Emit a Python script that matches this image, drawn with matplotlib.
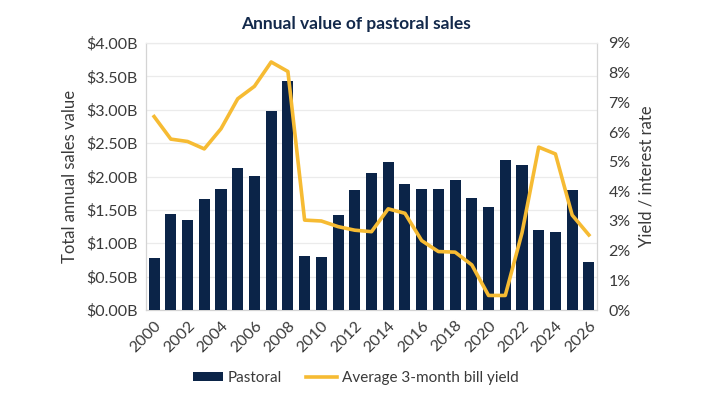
import matplotlib
matplotlib.use("Agg")
import matplotlib.pyplot as plt
from matplotlib.ticker import FuncFormatter, MultipleLocator
import numpy as np

years = list(range(2000, 2027))
pastoral = [0.775, 1.44, 1.355, 1.665, 1.82, 2.13, 2.01, 2.975, 3.435, 0.815,
            0.80, 1.43, 1.795, 2.045, 2.215, 1.885, 1.82, 1.82, 1.955, 1.675,
            1.54, 2.245, 2.17, 1.20, 1.17, 1.805, 0.72]
bill_yield = [6.52, 5.76, 5.68, 5.43, 6.11, 7.12, 7.54, 8.36, 8.04, 3.03,
              3.00, 2.81, 2.69, 2.64, 3.41, 3.26, 2.34, 1.97, 1.95, 1.52,
              0.49, 0.49, 2.6, 5.49, 5.26, 3.2, 2.53]
tick_years = list(range(2000, 2027, 2))

plt.rcParams['font.family'] = ['Lato', 'DejaVu Sans']
navy = '#0b2448'
gold = '#f6bb33'
txt = '#3a3a3a'

fig = plt.figure(figsize=(7.11, 4.0), dpi=100)
ax = fig.add_axes([0.205, 0.225, 0.635, 0.6675])
x = np.arange(len(years))
bars = ax.bar(x, pastoral, width=0.66, color=navy, zorder=3, label='Pastoral')
ax.set_ylim(0, 4.0)
ax.set_xlim(-0.5, len(years) - 0.5)
ax.yaxis.set_major_locator(MultipleLocator(0.5))
ax.yaxis.set_major_formatter(FuncFormatter(lambda v, p: f'${v:.2f}B'))
ax.grid(axis='y', color='#ebebeb', linewidth=0.9, zorder=0)
ax.set_xticks([years.index(t) for t in tick_years])
ax.set_xticklabels([str(t) for t in tick_years], rotation=45, ha='right',
                   rotation_mode='anchor', fontsize=11.5, color=txt)
ax.tick_params(axis='both', length=0, labelsize=11.5, colors=txt, pad=6)
for s in ax.spines.values():
    s.set_color('#d4d4d4')
    s.set_linewidth(0.9)
ax.spines['top'].set_color('#ebebeb')
ax.set_ylabel('Total annual sales value', fontsize=12, color=txt, labelpad=6)

ax2 = ax.twinx()
line, = ax2.plot(x, bill_yield, color=gold, linewidth=2.6, zorder=4,
                 label='Average 3-month bill yield')
ax2.set_ylim(0, 9)
ax2.yaxis.set_major_locator(MultipleLocator(1))
ax2.yaxis.set_major_formatter(FuncFormatter(lambda v, p: f'{int(round(v))}%'))
ax2.tick_params(axis='y', length=0, labelsize=11.5, colors=txt, pad=8)
for s in ax2.spines.values():
    s.set_visible(False)
ax2.set_ylabel('Yield / interest rate', fontsize=12, color=txt, labelpad=6)

fig.suptitle('Annual value of pastoral sales', x=0.5, y=0.96, fontsize=12.5,
             fontweight='bold', color='#13294b')

fig.legend([bars, line], ['Pastoral', 'Average 3-month bill yield'],
           loc='center', bbox_to_anchor=(0.5, 0.055), ncol=2, frameon=False,
           fontsize=11, handlelength=2.0, handleheight=0.6, columnspacing=1.6,
           labelcolor=txt, handletextpad=0.3)

fig.savefig('out.png', dpi=100)
